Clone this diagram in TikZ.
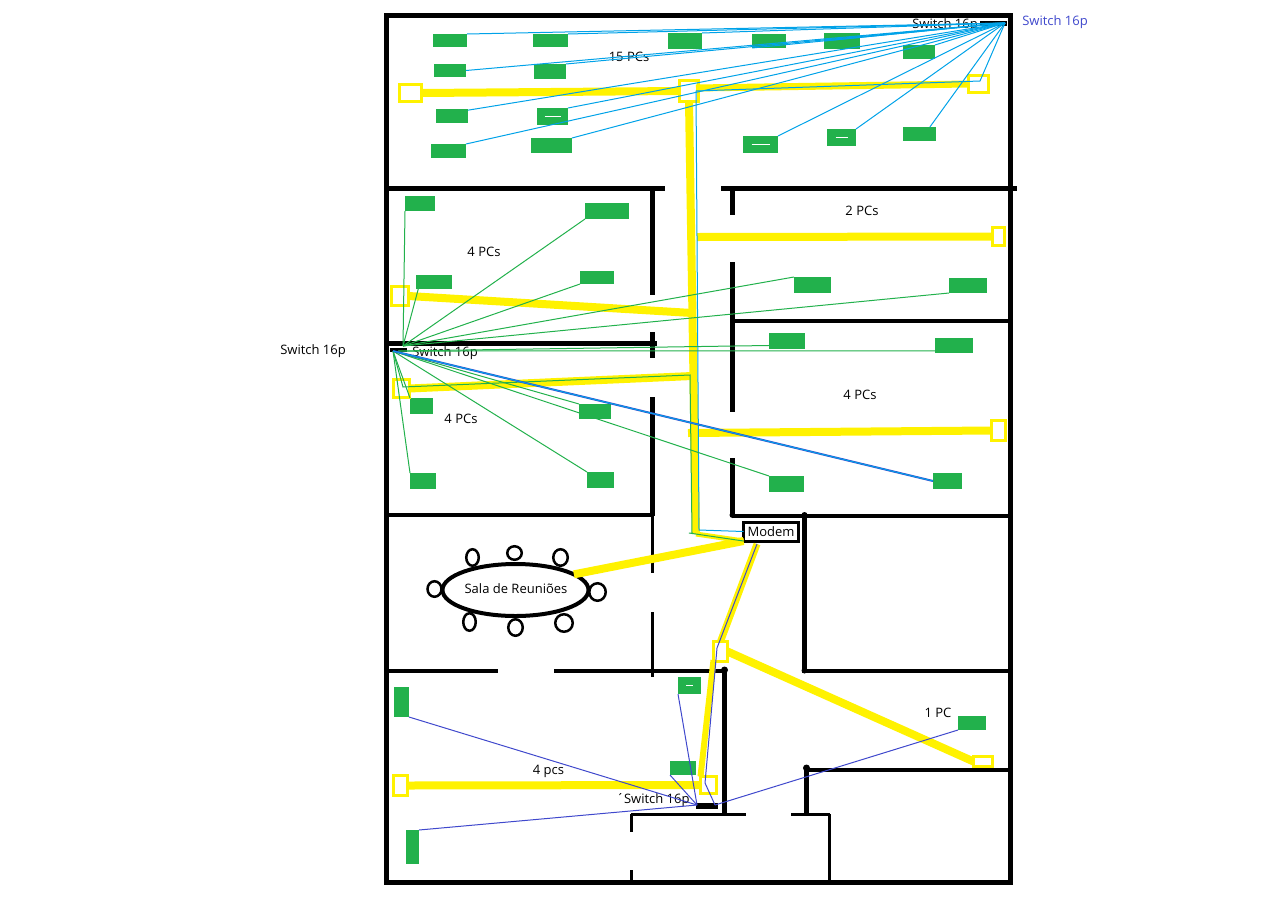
\documentclass[tikz,border=0pt]{standalone}
\usepackage{fontspec}
\setmainfont{Open Sans}
\usetikzlibrary{shapes, backgrounds, positioning}
\definecolor{pcgreen}{RGB}{34,177,76}
\definecolor{lanyellow}{RGB}{255,242,0}
\definecolor{lanblue}{RGB}{0,162,232}
\definecolor{landark}{RGB}{63,72,204}

\begin{document}
\begin{tikzpicture}[x=1pt, y=-1pt,
              every node/.style = {inner sep=0pt, outer sep=0pt},
              pc/.style = {fill=pcgreen},
              outlet/.style = {draw=lanyellow, line width=3pt},
              chair/.style = {shape=ellipse, draw, line width=2.5pt},
              txt/.style = {font=\fontsize{13}{15}\selectfont},
              wall/.style = {line width=5pt},
              thinwall/.style = {line width=3pt},
              duct/.style = {draw=lanyellow, line width=8pt},
              ductthin/.style = {draw=lanyellow, line width=6pt},
              bluewire/.style = {draw=lanblue, line width=1pt},
              greenwire/.style = {draw=pcgreen, line width=1pt},
              darkwire/.style = {draw=landark, line width=1pt},
              pcmark/.style = {draw=white, line width=1pt}]
  \useasboundingbox (0,0) rectangle (1279,905);

  % walls
  \draw[wall] (386.5,15.5) rectangle (1010.5,882.5);
  \draw[wall] (386,188.5) -- (665,188.5);
  \draw[wall] (721,188.5) -- (1017,188.5);
  \draw[wall] (652.5,188) -- (652.5,295);
  \draw[wall] (652.5,332) -- (652.5,358);
  \draw[wall] (652.5,397) -- (652.5,516);
  \draw[thinwall] (652.5,516) -- (652.5,573);
  \draw[thinwall] (652.5,612) -- (652.5,677);
  \draw[wall] (386,343.5) -- (657,343.5);
  \draw[line width=4pt] (386,515) -- (654,515);
  \draw[wall] (732.5,188) -- (732.5,215);
  \draw[wall] (732.5,262) -- (732.5,412);
  \draw[wall] (732.5,458) -- (732.5,516);
  \fill (732.5,515) circle (3);
  \draw[line width=4pt] (732,320.5) -- (1010,320.5);
  \draw[line width=4pt] (732,515.5) -- (1010,515.5);
  \draw[wall] (804.5,515) -- (804.5,672);
  \fill (804.5,515) circle (3);
  \fill (804.5,670.5) circle (3);
  \draw[line width=4pt] (802,670.5) -- (1010,670.5);
  \draw[line width=4pt] (386,671) -- (498,671);
  \draw[line width=4pt] (554,671) -- (725,671);
  \draw[wall] (724.5,670) -- (724.5,814);
  \fill (724.5,670) circle (3.5);
  \draw[thinwall] (631,814) -- (746,814);
  \draw[thinwall] (791,814) -- (830,814);
  \draw[thinwall] (631.5,814) -- (631.5,832);
  \draw[thinwall] (631.5,870) -- (631.5,882);
  \draw[thinwall] (829.5,814) -- (829.5,882);
  \draw[wall] (806.5,768) -- (806.5,814);
  \fill (806.5,768) circle (3.5);
  \draw[line width=4pt] (806,769.5) -- (1010,769.5);

  % meeting room
  \node[shape=ellipse, draw, line width=4pt, minimum width=146pt, minimum height=52pt] (table) at (515.5,590) {};
  \node[chair, minimum width=14pt, minimum height=15.5pt] (ch1) at (434.5,589) {};
  \node[chair, minimum width=12.5pt, minimum height=16.5pt] (ch2) at (472.5,557.5) {};
  \node[chair, minimum width=14.5pt, minimum height=13.5pt] (ch3) at (514.5,553) {};
  \node[chair, minimum width=14.5pt, minimum height=16.5pt] (ch4) at (560.5,557.5) {};
  \node[chair, minimum width=16.5pt, minimum height=17.5pt] (ch5) at (597.5,592) {};
  \node[chair, minimum width=12.5pt, minimum height=17.5pt] (ch6) at (469.5,622) {};
  \node[chair, minimum width=14.5pt, minimum height=16.5pt] (ch7) at (515.5,627.5) {};
  \node[chair, minimum width=17.5pt, minimum height=17.5pt] (ch8) at (564,623) {};

  % texts
  \node[txt] (lblSwTop) at (945,25) {Switch 16p};
  \node[txt, text=landark] (lblSwOut) at (1055,22) {Switch 16p};
  \node[txt] (lbl15) at (629,57) {15 PCs};
  \node[txt] (lbl2) at (862,211) {2 PCs};
  \node[txt] (lbl4a) at (484,252) {4 PCs};
  \node[txt] (lblSwLeft) at (313,351) {Switch 16p};
  \node[txt] (lblSwIn) at (445,353) {Switch 16p};
  \node[txt] (lbl4b) at (461,419) {4 PCs};
  \node[txt] (lbl4c) at (860,395) {4 PCs};
  \node[txt] (lblSala) at (516,589) {Sala de Reuniões};
  \node[txt] (lbl4d) at (548.5,771) {4 pcs};
  \node[txt] (lbl1) at (938,713) {1 PC};
  \node[txt] (lblSwBot) at (653,800) {´Switch 16p};

  % pcs, top room
  \node[pc, minimum width=34pt, minimum height=13pt] (p1) at (450,40.5) {};
  \node[pc, minimum width=35pt, minimum height=13pt] (p2) at (550.5,40.5) {};
  \node[pc, minimum width=34pt, minimum height=16pt] (p3) at (685,41) {};
  \node[pc, minimum width=34pt, minimum height=14pt] (p4) at (769,41) {};
  \node[pc, minimum width=36pt, minimum height=16pt] (p5) at (842,41) {};
  \node[pc, minimum width=32pt, minimum height=14pt] (p6) at (919,52) {};
  \node[pc, minimum width=32pt, minimum height=13pt] (p7) at (450,70.5) {};
  \node[pc, minimum width=32pt, minimum height=15pt] (p8) at (550,71.5) {};
  \node[pc, minimum width=32pt, minimum height=14pt] (p9) at (452,116) {};
  \node[pc, minimum width=31pt, minimum height=17pt] (p10) at (552.5,116.5) {};
  \node[pc, minimum width=35pt, minimum height=14pt] (p11) at (448.5,151) {};
  \node[pc, minimum width=41pt, minimum height=15pt] (p12) at (551.5,145.5) {};
  \node[pc, minimum width=35pt, minimum height=17pt] (p13) at (760.5,144.5) {};
  \node[pc, minimum width=29pt, minimum height=17pt] (p14) at (841.5,137.5) {};
  \node[pc, minimum width=33pt, minimum height=14pt] (p15) at (919.5,134) {};
  \draw[pcmark] (p10.center) +(-8,0) -- +(8,0);
  \draw[pcmark] (p13.center) +(-9,0) -- +(9,0);
  \draw[pcmark] (p14.center) +(-6,0) -- +(6,0);

  % pcs, left rooms
  \node[pc, minimum width=30pt, minimum height=15pt] (q1) at (420,203.5) {};
  \node[pc, minimum width=44pt, minimum height=16pt] (q2) at (607,211) {};
  \node[pc, minimum width=36pt, minimum height=14pt] (q3) at (434,282) {};
  \node[pc, minimum width=34pt, minimum height=13pt] (q4) at (597,277.5) {};
  \node[pc, minimum width=23pt, minimum height=16pt] (r1) at (421.5,406) {};
  \node[pc, minimum width=32pt, minimum height=15pt] (r2) at (595,411.5) {};
  \node[pc, minimum width=26pt, minimum height=16pt] (r3) at (423,481) {};
  \node[pc, minimum width=27pt, minimum height=16pt] (r4) at (600.5,480) {};

  % pcs, right rooms
  \node[pc, minimum width=37pt, minimum height=16pt] (s1) at (812.5,285) {};
  \node[pc, minimum width=38pt, minimum height=15pt] (s2) at (968,285.5) {};
  \node[pc, minimum width=36pt, minimum height=16pt] (s3) at (787,341) {};
  \node[pc, minimum width=38pt, minimum height=15pt] (s4) at (954,345.5) {};
  \node[pc, minimum width=35pt, minimum height=16pt] (s5) at (786.5,484) {};
  \node[pc, minimum width=29pt, minimum height=16pt] (s6) at (947.5,481) {};

  % pcs, bottom rooms
  \node[pc, minimum width=23pt, minimum height=17pt] (t1) at (689.5,685.5) {};
  \node[pc, minimum width=26pt, minimum height=14pt] (t2) at (683,768) {};
  \node[pc, minimum width=15pt, minimum height=30pt] (t3) at (401.5,702) {};
  \node[pc, minimum width=13pt, minimum height=34pt] (t4) at (412.5,847) {};
  \node[pc, minimum width=28pt, minimum height=14pt] (t5) at (972,723) {};
  \draw[pcmark] (t1.center) +(-3.5,0) -- +(3.5,0);

  % wall sockets
  \node[outlet, minimum width=22pt, minimum height=17pt] (o1) at (410.5,93) {};
  \node[outlet, minimum width=19pt, minimum height=21pt] (o2) at (689,91) {};
  \node[outlet, minimum width=20pt, minimum height=17pt] (o3) at (978.5,84) {};
  \node[outlet, minimum width=12pt, minimum height=18pt] (o4) at (998.5,236.5) {};
  \node[outlet, minimum width=14pt, minimum height=20pt] (o5) at (998.5,430.5) {};
  \node[outlet, minimum width=17pt, minimum height=19pt] (o6) at (400,296) {};
  \node[outlet, minimum width=16pt, minimum height=18pt] (o7) at (401.5,388.5) {};
  \node[outlet, minimum width=14pt, minimum height=20pt] (o8) at (720.5,651.5) {};
  \node[outlet, minimum width=19pt, minimum height=10pt] (o9) at (983,761.5) {};
  \node[outlet, minimum width=16pt, minimum height=17pt] (o10) at (708.5,785) {};
  \node[outlet, minimum width=14pt, minimum height=20pt] (o11) at (400.5,785.5) {};

  % modem and switches
  \node[draw, line width=3pt, fill=white, minimum width=55pt, minimum height=19pt, txt] (modem) at (771,531.5) {Modem};
  \node[fill, minimum width=27pt, minimum height=5pt] (swtop) at (993.5,23.5) {};
  \node[fill, minimum width=17pt, minimum height=4pt] (swleft) at (398.5,350) {};
  \node[fill, minimum width=22pt, minimum height=6pt] (swbot) at (707,806) {};
  \coordinate (hubtop) at (1005,23);
  \coordinate (hubup) at (403,346);
  \coordinate (hubmid) at (398,351);
  \coordinate (hubleft) at (393,351);
  \coordinate (hubbot) at (697,805);
  \coordinate (hubbotr) at (715,805);

  % yellow ducts
  \coordinate (main) at (696,534);
  \coordinate (mout) at (757,544);
  \coordinate (riser) at (713.5,660);
  \draw[duct] (o1.east) -- (o2.west);
  \draw[duct, line width=7pt] (696,88) -- (o3.west);
  \draw[duct] (o2.south) -- (main);
  \draw[duct, line width=5pt] (main) -- (modem.south west);
  \draw[duct] (table.15) -- (modem.south west);
  \draw[duct, line width=7pt] (mout) -- (o8.north);
  \draw[duct] (o8.east) -- (o9.west);
  \draw[ductthin] (riser) -- (o10.north west);
  \draw[duct] (o11.east) -- (o10.west);
  \draw[duct] (697,237) -- (o4.west);
  \draw[duct] (688,433) -- (o5.west);
  \draw[duct] (o6.east) -- (692,313);
  \draw[duct] (o7.east) -- (692,376);

  % top switch wiring
  \draw[bluewire] (hubtop) -- (p1.north east);
  \draw[bluewire] (hubtop) -- (p2.north east);
  \draw[bluewire] (hubtop) -- (p3.north east);
  \draw[bluewire] (hubtop) -- (p4.south west);
  \draw[bluewire] (hubtop) -- (p5.west);
  \draw[bluewire] (hubtop) -- (p6.north east);
  \draw[bluewire] (hubtop) -- (p7.east);
  \draw[bluewire] (hubtop) -- (p8.north east);
  \draw[bluewire] (hubtop) -- (p9.20);
  \draw[bluewire] (hubtop) -- (p10.north east);
  \draw[bluewire] (hubtop) -- (p11.north east);
  \draw[bluewire] (hubtop) -- (p12.north east);
  \draw[bluewire] (hubtop) -- (p13.north east);
  \draw[bluewire] (hubtop) -- (p14.north east);
  \draw[bluewire] (hubtop) -- (p15.34);
  \draw[bluewire] (hubtop) -- (980,81) -- (696,91) -- (699,530) -- (modem.west);

  % left switch wiring
  \draw[greenwire] (hubup) -- (q1.south west);
  \draw[greenwire] (hubup) -- (q2.south west);
  \draw[greenwire] (hubup) -- (q3.204);
  \draw[greenwire] (hubup) -- (q4.south west);
  \draw[greenwire] (hubup) -- (s1.north west);
  \draw[greenwire] (hubup) -- (s2.south west);
  \draw[greenwire] (hubmid) -- (s3.194);
  \draw[greenwire] (hubmid) -- (s4.196);
  \draw[greenwire] (hubleft) -- (r1.north west);
  \draw[greenwire] (hubleft) -- (r2.north west);
  \draw[greenwire] (hubleft) -- (r3.north west);
  \draw[greenwire] (hubleft) -- (r4.north west);
  \draw[greenwire] (hubleft) -- (s5.north west);
  \draw[greenwire] (hubleft) -- (403,387) -- (690,375) -- (692,533) -- (689,533) -- (modem.south west);
  \draw[darkwire, line width=2pt] (hubleft) -- (s6.west);
  \draw[bluewire] (hubleft) -- (s6.west);

  % bottom switch wiring
  \draw[darkwire] (hubbot) -- (t1.south west);
  \draw[darkwire] (hubbot) -- (t2.south west);
  \draw[darkwire] (hubbot) -- (t3.south east);
  \draw[darkwire] (hubbot) -- (t4.north east);
  \draw[darkwire] (hubbotr) -- (t5.south west);
  \draw[darkwire] (hubbotr) -- (705,783) -- (717,648) -- (mout);
\end{tikzpicture}
\end{document}
